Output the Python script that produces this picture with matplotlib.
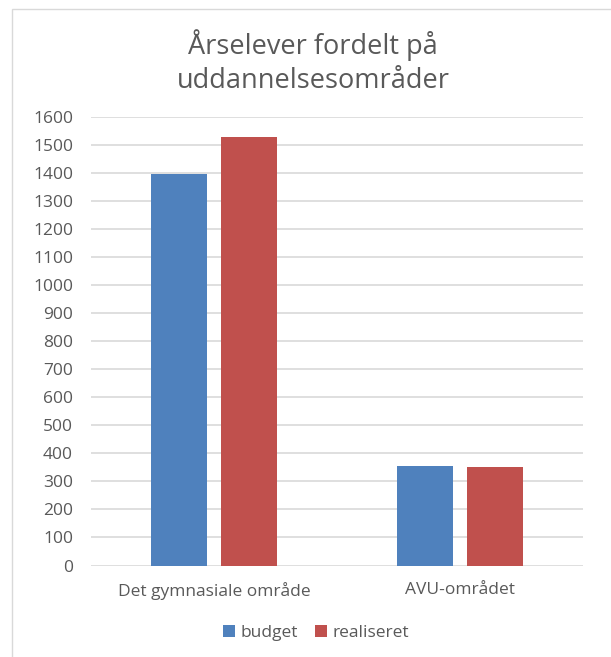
import matplotlib.pyplot as plt
import numpy as np
from matplotlib.patches import Rectangle

# Data
categories = ["Det gymnasiale område", "AVU-området"]
budget = [1397, 356]
realiseret = [1528, 353]
series_names = ["budget", "realiseret"]
colors = ["#4F81BD", "#C0504D"]

plt.rcParams['font.family'] = ['Open Sans', 'DejaVu Sans']
txt = "#595959"
grid = "#D9D9D9"

W, H = 611, 657
fig = plt.figure(figsize=(W / 100, H / 100), dpi=100)

# chart border (top/left visible)
fig.patches.append(Rectangle((12 / W, -0.1), 1.2, 1 - 9 / H + 0.1,
                             transform=fig.transFigure, fill=False,
                             edgecolor="#D9D9D9", linewidth=1))

ax = fig.add_axes([91 / W, 1 - 565.5 / H, (583 - 91) / W, (565.5 - 117.3) / H])

x = np.arange(len(categories))
w = 0.228
off = 0.142
ax.bar(x - off, budget, w, color=colors[0], label=series_names[0], zorder=3)
ax.bar(x + off, realiseret, w, color=colors[1], label=series_names[1], zorder=3)

ax.set_xlim(-0.5, 1.5)
ax.set_ylim(0, 1600)
ax.set_yticks(np.arange(0, 1601, 100))
ax.yaxis.grid(True, color=grid, linewidth=1.2, zorder=0)
ax.set_axisbelow(True)
for s in ax.spines.values():
    s.set_visible(False)
ax.tick_params(axis='both', length=0, colors=txt, labelsize=12.5)
ax.tick_params(axis='y', pad=13)
ax.tick_params(axis='x', pad=12)
ax.set_xticks(x)
ax.set_xticklabels(categories)

fig.text(313 / W, 1 - 62 / H, "Årselever fordelt på\nuddannelsesområder",
         ha='center', va='center', fontsize=19.5, color=txt, linespacing=1.25)

fig.legend(loc='center', bbox_to_anchor=(316 / W, 1 - 633 / H), ncol=2,
           frameon=False, fontsize=12.5, handlelength=0.7, handleheight=0.7,
           handletextpad=0.3, columnspacing=1.0, labelcolor=txt)

fig.savefig("out.png", dpi=100)
